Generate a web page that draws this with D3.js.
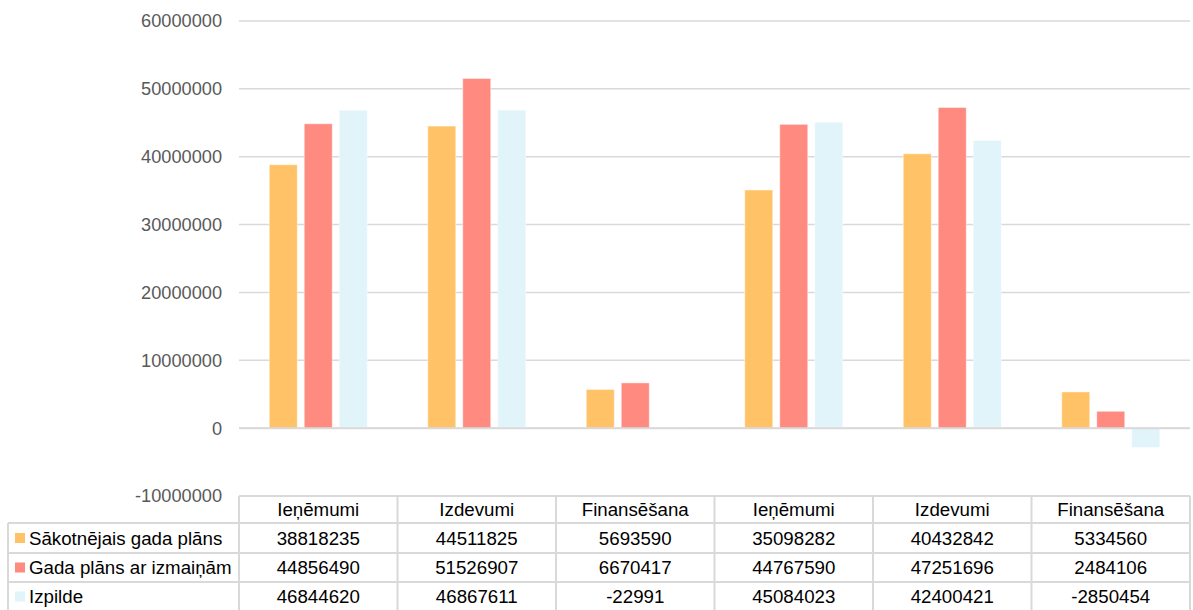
<!DOCTYPE html>
<html><head><meta charset="utf-8">
<script src="https://cdn.jsdelivr.net/npm/d3@7"></script>
<style>body{margin:0;background:#fff;} svg{font-family:"Liberation Sans",Arial,sans-serif;}</style>
</head><body><svg id="c" width="1193" height="610"></svg>
<script>
const categories = ["Ieņēmumi","Izdevumi","Finansēšana","Ieņēmumi","Izdevumi","Finansēšana"];
const seriesNames = ["Sākotnējais gada plāns","Gada plāns ar izmaiņām","Izpilde"];
const seriesA = [38818235,44511825,5693590,35098282,40432842,5334560];
const seriesB = [44856490,51526907,6670417,44767590,47251696,2484106];
const seriesC = [46844620,46867611,-22991,45084023,42400421,-2850454];
const yTicks = [-10000000,0,10000000,20000000,30000000,40000000,50000000,60000000];
const colors = ["#FFC266","#FF8A80","#E0F4FA"];
const series = [seriesA,seriesB,seriesC];

(function(){
const svg = d3.select("#c");
const pLeft = 239, pRight = 1190, pTop = 21, pBottom = 496;
const y = d3.scaleLinear().domain([-10000000,60000000]).range([pBottom,pTop]);
const x = d3.scaleBand().domain(d3.range(categories.length)).range([pLeft,pRight]);
const inner = d3.scaleBand().domain(d3.range(3)).range([x.bandwidth()/2-49, x.bandwidth()/2+49]).paddingInner(0.2);

const grid = "#d9d9d9";
const tFont = 18.7;
svg.append("g").selectAll("line").data(yTicks.filter(t=>t!==-10000000)).join("line")
  .attr("x1",pLeft).attr("x2",pRight).attr("y1",d=>y(d)).attr("y2",d=>y(d))
  .attr("stroke",grid).attr("stroke-width",1.5);
svg.append("g").selectAll("text").data(yTicks).join("text")
  .attr("x",222).attr("y",d=>y(d)).attr("dy","0.35em").attr("text-anchor","end")
  .attr("font-size",18.2).attr("fill","#595959").text(d=>d);
series.forEach((s,si)=>{
  svg.append("g").selectAll("rect").data(s).join("rect")
    .attr("x",(d,i)=>x(i)+inner(si)).attr("width",inner.bandwidth())
    .attr("y",d=>y(Math.max(0,d))).attr("height",d=>Math.abs(y(d)-y(0)))
    .attr("fill",colors[si]).attr("stroke","#ffffff").attr("stroke-opacity",0.45).attr("stroke-width",1);
});
svg.append("line").attr("x1",pLeft).attr("x2",pRight).attr("y1",y(0)).attr("y2",y(0)).attr("stroke",grid).attr("stroke-width",2);

const rowY = [496,523,553,582,611];
const legendLeft = 8;
const tg = svg.append("g");
tg.append("line").attr("x1",pLeft).attr("x2",pRight).attr("y1",rowY[0]).attr("y2",rowY[0]).attr("stroke",grid).attr("stroke-width",2);
for(let r=1;r<rowY.length;r++){
  tg.append("line").attr("x1",legendLeft).attr("x2",pRight).attr("y1",rowY[r]).attr("y2",rowY[r]).attr("stroke",grid).attr("stroke-width",2);
}
const cols = d3.range(categories.length+1).map(i=>pLeft+i*x.step());
cols.forEach(cx=>{
  tg.append("line").attr("x1",cx).attr("x2",cx).attr("y1",rowY[0]).attr("y2",610).attr("stroke",grid).attr("stroke-width",2);
});
tg.append("line").attr("x1",legendLeft).attr("x2",legendLeft).attr("y1",rowY[1]).attr("y2",610).attr("stroke",grid).attr("stroke-width",2);
tg.selectAll("text.h").data(categories).join("text").attr("class","h")
  .attr("x",(d,i)=>x(i)+x.bandwidth()/2).attr("y",(rowY[0]+rowY[1])/2).attr("dy","0.36em")
  .attr("text-anchor","middle").attr("font-size",tFont).attr("fill","#000").text(d=>d);
series.forEach((s,si)=>{
  const cy = (rowY[si+1]+rowY[si+2])/2;
  tg.append("rect").attr("x",15).attr("y",cy-5).attr("width",10).attr("height",10).attr("fill",colors[si]);
  tg.append("text").attr("x",29).attr("y",cy).attr("dy","0.36em").attr("font-size",tFont).attr("fill","#000").text(seriesNames[si]);
  tg.selectAll("text.v"+si).data(s).join("text").attr("class","v"+si)
    .attr("x",(d,i)=>x(i)+x.bandwidth()/2).attr("y",cy).attr("dy","0.36em")
    .attr("text-anchor","middle").attr("font-size",tFont).attr("fill","#000").text(d=>d);
});
})();
</script></body></html>
